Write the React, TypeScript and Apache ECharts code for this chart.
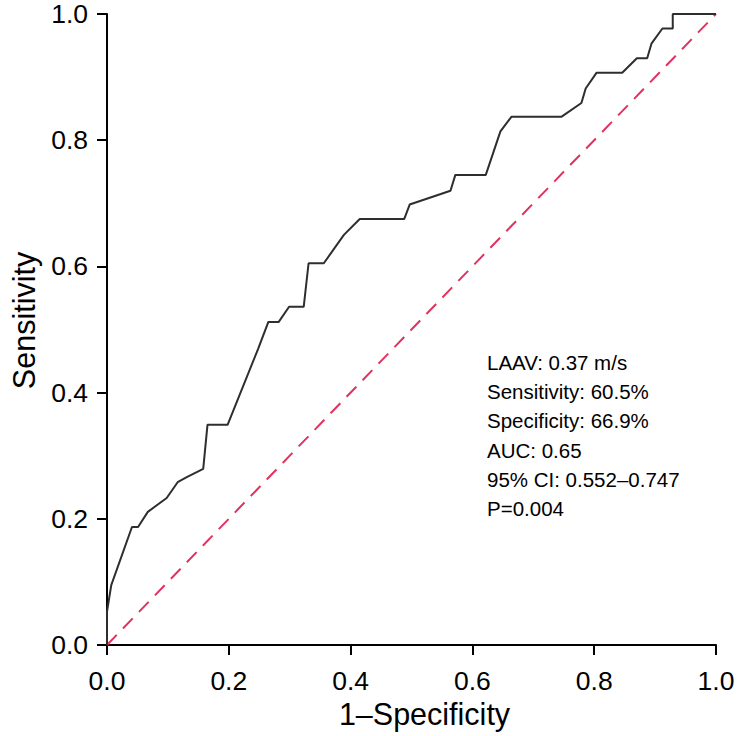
import React, { useEffect, useRef } from "react";
import * as echarts from "echarts";

const fpr = [0, 0, 0.007, 0.041, 0.051, 0.067, 0.098, 0.116, 0.131, 0.158, 0.165, 0.198, 0.248, 0.265, 0.282, 0.299, 0.323, 0.331, 0.356, 0.389, 0.415, 0.488, 0.497, 0.564, 0.572, 0.622, 0.646, 0.664, 0.746, 0.779, 0.786, 0.804, 0.846, 0.87, 0.887, 0.894, 0.912, 0.929, 0.929, 1.0];
const tpr = [0, 0.053, 0.095, 0.187, 0.187, 0.211, 0.233, 0.258, 0.266, 0.279, 0.349, 0.349, 0.469, 0.512, 0.512, 0.536, 0.536, 0.605, 0.605, 0.65, 0.675, 0.675, 0.698, 0.72, 0.745, 0.745, 0.814, 0.837, 0.837, 0.859, 0.882, 0.907, 0.907, 0.93, 0.93, 0.953, 0.977, 0.977, 1.0, 1.0];
const refX = [0, 1];
const refY = [0, 1];
const annotationLines = [
  "LAAV: 0.37 m/s",
  "Sensitivity: 60.5%",
  "Specificity: 66.9%",
  "AUC: 0.65",
  "95% CI: 0.552\u20130.747",
  "P=0.004",
];
const xName = "1\u2013Specificity";
const yName = "Sensitivity";

const FONT = "'Liberation Sans', Arial, Helvetica, sans-serif";

export default function App() {
  const ref = useRef<HTMLDivElement>(null);
  useEffect(() => {
    if (!ref.current) return;
    const chart = echarts.init(ref.current, null, { renderer: "svg" });
    const curve = fpr.map((x, i) => [x, tpr[i]]);
    const diag = refX.map((x, i) => [x, refY[i]]);
    chart.setOption({
      animation: false,
      backgroundColor: "#ffffff",
      grid: { left: 102, right: 36, top: 14, bottom: 91 },
      xAxis: {
        type: "value",
        min: 0,
        max: 1,
        interval: 0.2,
        name: xName,
        nameLocation: "middle",
        nameGap: 50,
        nameTextStyle: { fontFamily: FONT, fontSize: 30.5, color: "#000", padding: [0, 0, 0, 26] },
        axisLine: { show: true, lineStyle: { color: "#000", width: 2 } },
        axisTick: { show: true, length: 10, lineStyle: { color: "#000", width: 2 } },
        axisLabel: {
          fontFamily: FONT,
          fontSize: 26.5,
          color: "#000",
          margin: 22,
          formatter: (v: number) => v.toFixed(1),
        },
        splitLine: { show: false },
      },
      yAxis: {
        type: "value",
        min: 0,
        max: 1,
        interval: 0.2,
        name: yName,
        nameLocation: "middle",
        nameGap: 68,
        nameTextStyle: { fontFamily: FONT, fontSize: 30.5, color: "#000", padding: [0, 0, 0, 18] },
        axisLine: { show: true, lineStyle: { color: "#000", width: 2 } },
        axisTick: { show: true, length: 10, lineStyle: { color: "#000", width: 2 } },
        axisLabel: {
          fontFamily: FONT,
          fontSize: 26.5,
          color: "#000",
          margin: 19,
          formatter: (v: number) => v.toFixed(1),
        },
        splitLine: { show: false },
      },
      series: [
        {
          type: "line",
          data: diag,
          symbol: "none",
          lineStyle: { color: "#e0325f", width: 2, type: [14, 9] },
          z: 2,
        },
        {
          type: "line",
          data: curve,
          symbol: "none",
          lineStyle: { color: "#2e2e2e", width: 2 },
          z: 3,
        },
      ],
      graphic: annotationLines.map((t, i) => ({
        type: "text",
        left: 487,
        top: 352 + i * 29.2,
        style: { text: t, fontFamily: FONT, fontSize: 20.5, fill: "#000" },
      })),
    });
    return () => chart.dispose();
  }, []);
  return (
    <div
      ref={ref}
      style={{ position: "absolute", left: 0, top: 0, width: 752, height: 736, background: "#fff" }}
    />
  );
}
